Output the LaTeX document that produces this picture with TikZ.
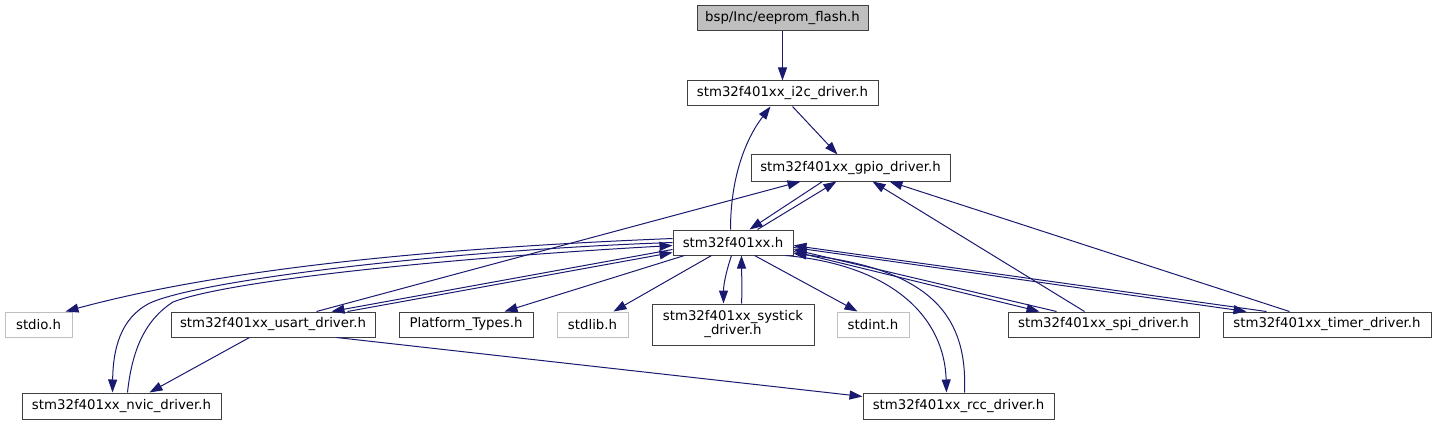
\documentclass[tikz,border=0pt]{standalone}
\usepackage{fontspec}
\setmainfont{DejaVu Sans}
\usetikzlibrary{arrows.meta,calc}
\definecolor{edgec}{RGB}{25,25,112}
\definecolor{bord}{RGB}{64,64,64}
\definecolor{lgray}{RGB}{191,191,191}
\begin{document}
\begin{tikzpicture}[x=1pt,y=-1pt,
  box/.style={draw=bord, line width=1pt, fill=white, inner sep=0pt,
    font=\fontsize{13.3}{14}\selectfont, align=center, minimum height=25pt},
  gbox/.style={box, draw=lgray},
  edge/.style={draw=edgec, line width=1pt, -{Triangle[length=13pt,width=9pt]}},
]
\useasboundingbox (0,0) rectangle (1435,425);
% nodes
\node[box, fill=lgray, minimum width=171pt] (eep) at (782.5,18.5) {bsp/Inc/eeprom\_flash.h};
\node[box, minimum width=191pt] (i2c) at (782.5,93.5) {stm32f401xx\_i2c\_driver.h};
\node[box, minimum width=199pt, minimum height=26pt] (gpio) at (850.5,168) {stm32f401xx\_gpio\_driver.h};
\node[box, minimum width=120pt] (stm) at (733,242.5) {stm32f401xx.h};
\node[gbox, minimum width=67pt] (stdio) at (38.5,324.5) {stdio.h};
\node[box, minimum width=204pt] (usart) at (273,324.5) {stm32f401xx\_usart\_driver.h};
\node[box, minimum width=134pt] (plat) at (466,324.5) {Platform\_Types.h};
\node[gbox, minimum width=71pt] (stdlib) at (592.5,324.5) {stdlib.h};
\node[box, minimum width=162pt, minimum height=41pt] (sys) at (733,324.5) {stm32f401xx\_systick\\\_driver.h};
\node[gbox, minimum width=72pt] (stdint) at (873,324.5) {stdint.h};
\node[box, minimum width=191pt] (spi) at (1103.5,324.5) {stm32f401xx\_spi\_driver.h};
\node[box, minimum width=208pt] (timer) at (1327,324.5) {stm32f401xx\_timer\_driver.h};
\node[box, minimum width=199pt, minimum height=26pt] (nvic) at (121.5,406) {stm32f401xx\_nvic\_driver.h};
\node[box, minimum width=191pt, minimum height=26pt] (rcc) at (958.5,406) {stm32f401xx\_rcc\_driver.h};
% edges
\draw[edge] (eep.south) -- (i2c.north);
\draw[edge] ($(i2c.south west)+(106,0)$) -- ($(gpio.north west)+(87,0)$);
\draw[edge] ($(stm.north west)+(58,0)$) .. controls +(0,-50) and +(-26,34) .. ($(i2c.south west)+(84,0)$);
\draw[edge] ($(gpio.south west)+(72,0)$) -- ($(stm.north west)+(77,0)$);
\draw[edge] ($(stm.north west)+(85,0)$) -- ($(gpio.south west)+(86,0)$);
\draw[edge] ($(usart.north west)+(146,0)$) -- ($(gpio.south west)+(50,0)$);
\draw[edge] ($(spi.north west)+(77,0)$) -- ($(gpio.south west)+(122,0)$);
\draw[edge] ($(timer.north west)+(67,0)$) -- ($(gpio.south west)+(139,0)$);
% left side
\draw[edge] ($(stm.north west)+(0,9)$) .. controls +(-173,7) and +(184,-50) .. ($(stdio.north west)+(61,0)$);
\draw[edge] ($(stm.north west)+(0,13)$) .. controls (450,250) and (200,280) .. (150,303)
   .. controls (120,318) and (113,350) .. ($(nvic.north west)+(91,0)$);
\draw[edge] ($(nvic.north west)+(106,0)$) .. controls (132,350) and (145,320) .. (173,302)
   .. controls (230,280) and (450,258) .. ($(stm.north west)+(0,16)$);
\draw[edge] ($(stm.north west)+(0,20)$) -- ($(usart.north west)+(161,0)$);
\draw[edge] ($(usart.north west)+(177,0)$) -- ($(stm.north west)+(0,23)$);
% bottom
\draw[edge] ($(stm.south west)+(12,0)$) -- ($(plat.north west)+(106,0)$);
\draw[edge] ($(stm.south west)+(39,0)$) -- ($(stdlib.north west)+(57,0)$);
\draw[edge] ($(stm.south west)+(59,0)$) .. controls +(-6,18) and +(0,-18) .. ($(sys.north west)+(72,0)$);
\draw[edge] ($(sys.north west)+(90,0)$) .. controls +(1,-18) and +(0,18) .. ($(stm.south west)+(69,0)$);
\draw[edge] ($(stm.south west)+(82,0)$) -- ($(stdint.north west)+(21,0)$);
\draw[edge] ($(stm.south west)+(113,0)$) .. controls +(110,10) and +(-2,-73) .. ($(rcc.north west)+(84,0)$);
\draw[edge] ($(rcc.north west)+(102,0)$) .. controls +(3,-73) and +(142,16) .. ($(stm.north east)+(0,24)$);
% right side
\draw[edge] ($(stm.north east)+(0,22)$) -- ($(spi.north west)+(32,0)$);
\draw[edge] ($(spi.north west)+(49,0)$) -- ($(stm.north east)+(0,20)$);
\draw[edge] ($(stm.north east)+(0,18)$) -- ($(timer.north west)+(24,0)$);
\draw[edge] ($(timer.north west)+(44,0)$) -- ($(stm.north east)+(0,16)$);
% usart lower
\draw[edge] ($(usart.south west)+(79,0)$) -- ($(nvic.north west)+(128,0)$);
\draw[edge] ($(usart.south west)+(166,0)$) -- ($(rcc.north west)+(0,4)$);
\end{tikzpicture}
\end{document}
